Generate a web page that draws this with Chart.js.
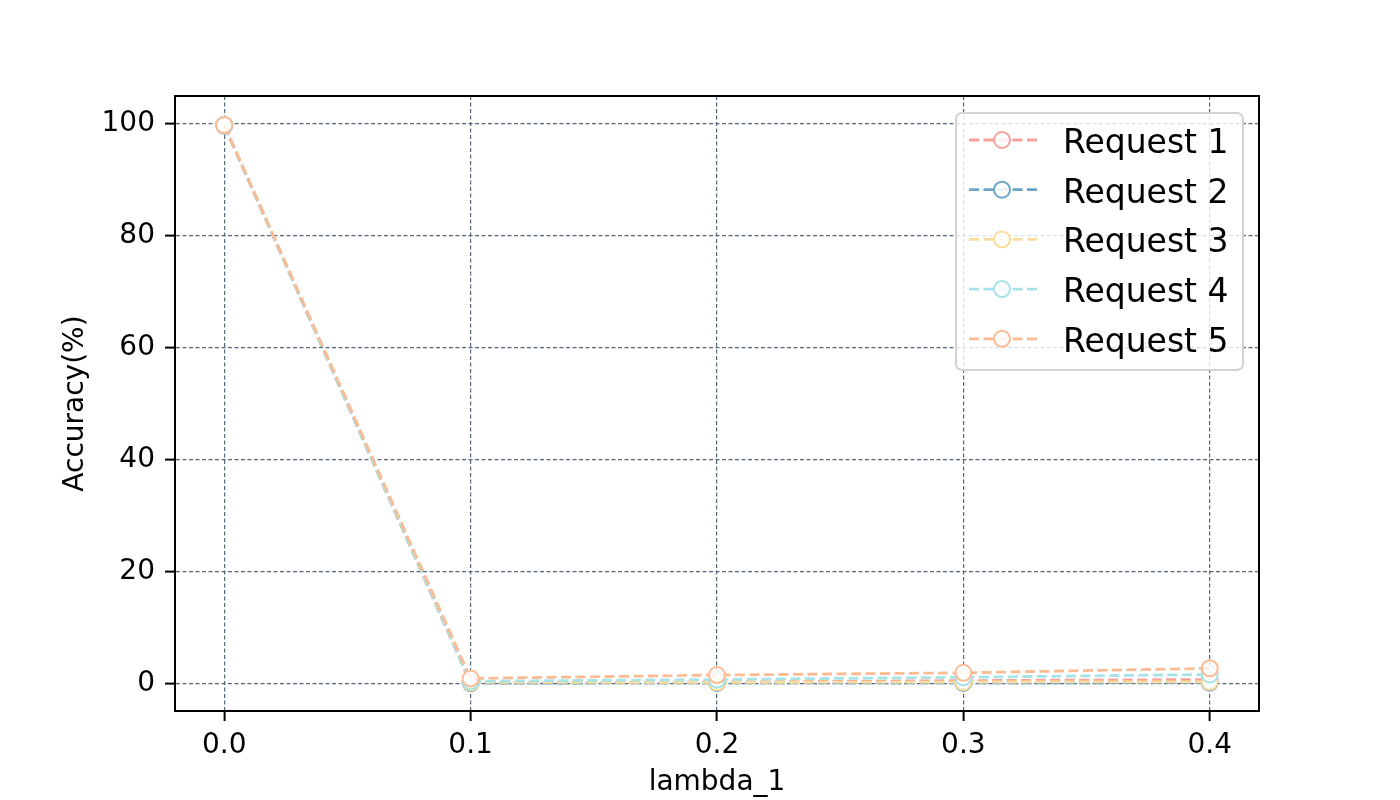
<!DOCTYPE html>
<html>
<head>
<meta charset="utf-8">
<script src="https://cdn.jsdelivr.net/npm/chart.js@4/dist/chart.umd.min.js"></script>
<style>
  body { margin: 0; background: #fff; }
  canvas { display: block; }
</style>
</head>
<body>
<canvas id="myChart" width="1400" height="800"></canvas>
<script>
// DATA
const lambdas = [0.0, 0.1, 0.2, 0.3, 0.4];
const request1 = [99.8, 0.25, 0.35, 0.6, 0.8];
const request2 = [99.7, 0.17, 0.2, 0.2, 0.25];
const request3 = [99.8, 0.3, 0.3, 0.35, 0.4];
const request4 = [99.8, 0.5, 0.8, 1.2, 1.7];
const request5 = [99.8, 1.0, 1.6, 2.0, 2.8];
const seriesNames = ['Request 1', 'Request 2', 'Request 3', 'Request 4', 'Request 5'];
const xTicks = [0.0, 0.1, 0.2, 0.3, 0.4];
const yTicks = [0, 20, 40, 60, 80, 100];

const colors = ['#f4a29a', '#6aa6c9', '#fcdc9a', '#a6e3e9', '#fdbb94'];
const allSeries = [request1, request2, request3, request4, request5];

Chart.defaults.font.family = "'DejaVu Sans', sans-serif";
Chart.defaults.color = '#000';

const gridColor = '#55687b';

// spines on all four sides
const framePlugin = {
  id: 'frame',
  afterDatasetsDraw(chart) {
    const { ctx, chartArea: a } = chart;
    ctx.save();
    ctx.strokeStyle = '#000';
    ctx.lineWidth = 2;
    ctx.setLineDash([]);
    ctx.strokeRect(a.left, a.top, a.right - a.left, a.bottom - a.top);
    ctx.restore();
  }
};

// legend inside the plot, top right
const legendPlugin = {
  id: 'innerLegend',
  afterDraw(chart) {
    const ctx = chart.ctx;
    const box = { x: 956, y: 113, w: 287, h: 257 };
    ctx.save();
    ctx.beginPath();
    ctx.roundRect(box.x, box.y, box.w, box.h, 6);
    ctx.fillStyle = 'rgba(255,255,255,0.8)';
    ctx.fill();
    ctx.strokeStyle = '#d3d3d3';
    ctx.lineWidth = 2;
    ctx.stroke();

    seriesNames.forEach((name, i) => {
      const cy = 140 + i * 49.7;
      ctx.strokeStyle = colors[i];
      ctx.lineWidth = 2.8;
      ctx.setLineDash([10, 4.5]);
      ctx.beginPath();
      ctx.moveTo(969, cy);
      ctx.lineTo(1037, cy);
      ctx.stroke();
      ctx.setLineDash([]);

      ctx.beginPath();
      ctx.arc(1002, cy, 8, 0, Math.PI * 2);
      ctx.fillStyle = 'rgba(255,255,255,0.85)';
      ctx.fill();
      ctx.lineWidth = 2;
      ctx.stroke();

      ctx.fillStyle = '#000';
      ctx.font = "33px 'DejaVu Sans'";
      ctx.textBaseline = 'alphabetic';
      ctx.textAlign = 'left';
      ctx.fillText(name, 1063, cy + 13);
    });
    ctx.restore();
  }
};

const datasets = allSeries.map((vals, i) => ({
  label: seriesNames[i],
  data: lambdas.map((x, j) => ({ x: x, y: vals[j] })),
  borderColor: colors[i],
  borderWidth: 2.8,
  borderDash: [10, 4.5],
  tension: 0,
  fill: false,
  pointRadius: 8,
  pointBorderWidth: 2,
  pointBorderColor: colors[i],
  pointBackgroundColor: 'rgba(255,255,255,0.8)',
  order: allSeries.length - i
}));

const gridOpts = {
  color: gridColor,
  lineWidth: 1.2,
  tickLength: 10,
  tickColor: '#000',
  tickWidth: 2,
  tickBorderDash: []
};

const ctx = document.getElementById('myChart');
new Chart(ctx, {
  type: 'line',
  data: { datasets: datasets },
  options: {
    responsive: false,
    animation: false,
    devicePixelRatio: 1,
    layout: { padding: { left: 0, top: 96, right: 141, bottom: 0 } },
    plugins: {
      legend: { display: false },
      tooltip: { enabled: false }
    },
    scales: {
      x: {
        type: 'linear',
        min: -0.02,
        max: 0.42,
        afterBuildTicks(scale) { scale.ticks = xTicks.map(v => ({ value: v })); },
        afterFit(scale) { scale.height = 89; },
        ticks: {
          autoSkip: false,
          maxRotation: 0,
          padding: 8,
          font: { size: 28 },
          callback: v => v.toFixed(1)
        },
        grid: gridOpts,
        border: { display: true, color: '#000', width: 2, dash: [4, 2.5] },
        title: {
          display: true,
          text: 'lambda_1',
          font: { size: 28 },
          padding: { top: 0, bottom: 0 }
        }
      },
      y: {
        type: 'linear',
        min: -4.82,
        max: 105,
        afterBuildTicks(scale) { scale.ticks = yTicks.map(v => ({ value: v })); },
        afterFit(scale) { scale.width = 175; },
        ticks: {
          autoSkip: false,
          padding: 10,
          font: { size: 28 },
          callback: v => String(v)
        },
        grid: gridOpts,
        border: { display: true, color: '#000', width: 2, dash: [4, 2.5] },
        title: {
          display: true,
          text: 'Accuracy(%)',
          font: { size: 28 },
          padding: { top: 59, bottom: 0 }
        }
      }
    }
  },
  plugins: [framePlugin, legendPlugin]
});
</script>
</body>
</html>
